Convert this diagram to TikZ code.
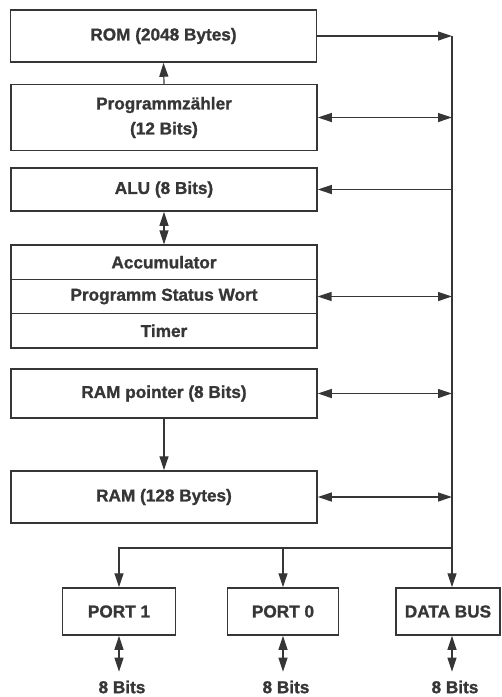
\documentclass[tikz,border=0pt]{standalone}
\usepackage{fontspec}
\setmainfont[BoldFeatures={FakeBold=1.2}]{Liberation Sans}
\usetikzlibrary{arrows.meta}
\definecolor{ink}{HTML}{363636}
\begin{document}
\begin{tikzpicture}[x=1pt,y=-1pt,
  font=\fontsize{17.2}{20}\selectfont\bfseries,
  every node/.style={text=ink},
  box/.style={draw=ink, line width=1.5pt, minimum width=306pt, inner sep=0pt},
  cell/.style={draw=ink, line width=1.1pt, minimum width=306pt, minimum height=34.33pt, inner sep=0pt},
  port/.style={draw=ink, line width=1.5pt, minimum height=47pt, inner sep=0pt},
  bits/.style={inner sep=0pt, outer ysep=9pt},
  tip/.tip={Triangle[length=14pt,width=9pt]},
  wire/.style={draw=ink, line width=1.2pt},
  arr/.style={wire, -tip},
  dbl/.style={wire, tip-tip}]
\useasboundingbox (0,0) rectangle (502,697);

% processor blocks
\node[box, minimum height=52pt] (rom) at (163.5,36) {ROM (2048 Bytes)};
\node[box, minimum height=66pt, align=center, font=\fontsize{17.2}{25}\selectfont\bfseries] (prog) at (164,117.5) {Programmzähler\\(12 Bits)};
\node[box, minimum height=43pt] (alu) at (164,189.5) {ALU (8 Bits)};
\node[cell] (acc) at (164,262.2) {Accumulator};
\node[cell] (psw) at (164,296.5) {Programm Status Wort};
\node[cell] (tim) at (164,330.8) {Timer};
\draw[ink, line width=1.5pt] (acc.north west) rectangle (tim.south east);
\node[box, minimum height=49pt] (rptr) at (164,393.5) {RAM pointer (8 Bits)};
\node[box, minimum height=52pt] (ram) at (164,497) {RAM (128 Bytes)};

% ports
\node[port, minimum width=113pt] (p1) at (119,611.5) {PORT 1};
\node[port, minimum width=111pt] (p0) at (283,611.5) {PORT 0};
\node[port, minimum width=104pt] (db) at (448,611.5) {DATA BUS};
\node[bits] (b1) at (122,687) {8 Bits};
\node[bits] (b0) at (286,687) {8 Bits};
\node[bits] (bd) at (455,687) {8 Bits};

% internal bus
\coordinate (busx) at (452,0);
\coordinate (split) at (452,548);

\draw[arr] (rom.east) -- (rom.east -| busx);
\draw[arr] (rom.east -| busx) -- (busx |- db.north);
\draw[arr] (prog.north) -- (rom.south);
\draw[dbl] (prog.east) -- (prog.east -| busx);
\draw[arr] (alu.east -| busx) -- (alu.east);
\draw[dbl] (alu.south) -- (acc.north);
\draw[dbl] (psw.east) -- (psw.east -| busx);
\draw[dbl] (rptr.east) -- (rptr.east -| busx);
\draw[arr] (rptr.south) -- (ram.north);
\draw[dbl] (ram.east) -- (ram.east -| busx);
\draw[arr] (split) -| (p1.north);
\draw[arr] (p0.north |- split) -- (p0.north);

% external lines
\draw[dbl] (p1.south) -- (p1.south |- b1.north);
\draw[dbl] (p0.south) -- (p0.south |- b0.north);
\draw[dbl] (busx |- db.south) -- (busx |- bd.north);
\end{tikzpicture}
\end{document}
